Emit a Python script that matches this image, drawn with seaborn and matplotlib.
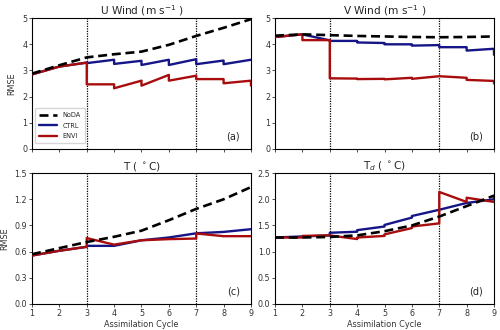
import numpy as np
import pandas as pd
import matplotlib
matplotlib.use("Agg")
import matplotlib.pyplot as plt
import seaborn as sns

sns.set_style("ticks")
plt.rcParams['font.family'] = ['DejaVu Sans']

cycles = [1, 2, 3, 4, 5, 6, 7, 8, 9]
titles = ["U Wind (m s$^{-1}$ )", "V Wind (m s$^{-1}$ )", "T ( $^\\circ$C)", "T$_d$ ( $^\\circ$C)"]
panel_labels = ["(a)", "(b)", "(c)", "(d)"]
yticks_list = [[0, 1, 2, 3, 4, 5], [0, 1, 2, 3, 4, 5],
               [0.0, 0.3, 0.6, 0.9, 1.2, 1.5], [0.0, 0.5, 1.0, 1.5, 2.0, 2.5]]
ytick_labels = [["0", "1", "2", "3", "4", "5"], ["0", "1", "2", "3", "4", "5"],
                ["0.0", "0.3", "0.6", "0.9", "1.2", "1.5"],
                ["0.0", "0.5", "1.0", "1.5", "2.0", "2.5"]]

# NoDA (no jumps), values at cycles 1..9
u_noda = [2.88, 3.2, 3.5, 3.62, 3.72, 3.98, 4.32, 4.63, 4.96]
v_noda = [4.33, 4.38, 4.35, 4.32, 4.3, 4.28, 4.27, 4.28, 4.3]
t_noda = [0.57, 0.64, 0.71, 0.77, 0.84, 0.96, 1.09, 1.2, 1.34]
td_noda = [1.27, 1.27, 1.28, 1.31, 1.39, 1.5, 1.67, 1.87, 2.07]

# forecast values (end of each cycle, at cycles 2..9)
u_ctrl_fc = [3.15, 3.3, 3.41, 3.37, 3.41, 3.43, 3.38, 3.41]
u_envi_fc = [3.15, 3.3, 2.47, 2.61, 2.83, 2.8, 2.67, 2.61]
v_ctrl_fc = [4.38, 4.15, 4.13, 4.05, 4.0, 3.97, 3.89, 3.83]
v_envi_fc = [4.38, 4.16, 2.69, 2.68, 2.72, 2.78, 2.72, 2.6]
t_ctrl_fc = [0.61, 0.655, 0.666, 0.73, 0.762, 0.81, 0.826, 0.857]
t_envi_fc = [0.61, 0.655, 0.68, 0.73, 0.743, 0.75, 0.777, 0.777]
td_ctrl_fc = [1.29, 1.31, 1.38, 1.48, 1.65, 1.8, 1.93, 2.0]
td_envi_fc = [1.27, 1.31, 1.24, 1.3, 1.45, 1.54, 1.95, 1.95]

# analysis values (start of each cycle, at cycles 1..9)
u_ctrl_an = [2.85, 3.15, 3.28, 3.25, 3.21, 3.21, 3.24, 3.24, 3.41]
u_envi_an = [2.85, 3.15, 2.47, 2.32, 2.42, 2.61, 2.67, 2.51, 2.42]
v_ctrl_an = [4.28, 4.38, 4.13, 4.07, 4.0, 3.95, 3.89, 3.76, 3.6]
v_envi_an = [4.28, 4.16, 2.7, 2.67, 2.66, 2.68, 2.78, 2.64, 2.5]
t_ctrl_an = [0.555, 0.61, 0.666, 0.666, 0.73, 0.762, 0.81, 0.826, 0.857]
t_envi_an = [0.555, 0.61, 0.755, 0.68, 0.73, 0.743, 0.808, 0.777, 0.777]
td_ctrl_an = [1.27, 1.29, 1.36, 1.41, 1.51, 1.68, 1.8, 1.93, 2.07]
td_envi_an = [1.27, 1.3, 1.31, 1.27, 1.33, 1.48, 2.14, 2.03, 1.95]

noda = [u_noda, v_noda, t_noda, td_noda]
ctrl = [(u_ctrl_fc, u_ctrl_an), (v_ctrl_fc, v_ctrl_an), (t_ctrl_fc, t_ctrl_an), (td_ctrl_fc, td_ctrl_an)]
envi = [(u_envi_fc, u_envi_an), (v_envi_fc, v_envi_an), (t_envi_fc, t_envi_an), (td_envi_fc, td_envi_an)]


def sawtooth(fc, an):
    xs, ys = [cycles[0]], [an[0]]
    for i in range(1, len(cycles)):
        xs += [cycles[i], cycles[i]]
        ys += [fc[i - 1], an[i]]
    return pd.DataFrame({"x": xs, "y": ys, "order": range(len(xs))})


fig, axes = plt.subplots(2, 2, figsize=(5, 3.3), dpi=100)
fig.subplots_adjust(left=0.064, right=0.988, top=0.945, bottom=0.079, wspace=0.11, hspace=0.185)

c_noda = "black"
c_ctrl = "#151588"
c_envi = "#a80c0c"

for k, ax in enumerate(axes.flat):
    ax.axvline(3, color="black", ls=(0, (1, 1)), lw=0.9, zorder=1)
    ax.axvline(7, color="black", ls=(0, (1, 1)), lw=0.9, zorder=1)
    dn = pd.DataFrame({"x": cycles, "y": noda[k]})
    sns.lineplot(data=dn, x="x", y="y", ax=ax, color=c_noda, lw=1.9,
                 linestyle=(0, (3.4, 1.8)), label="NoDA", zorder=4)
    dc = sawtooth(*ctrl[k])
    sns.lineplot(data=dc, x="x", y="y", ax=ax, sort=False, estimator=None,
                 color=c_ctrl, lw=1.7, label="CTRL", zorder=3)
    de = sawtooth(*envi[k])
    sns.lineplot(data=de, x="x", y="y", ax=ax, sort=False, estimator=None,
                 color=c_envi, lw=1.7, label="ENVI", zorder=3.5)
    ax.set_xlim(1, 9)
    ax.set_ylim(yticks_list[k][0], yticks_list[k][-1])
    ax.set_yticks(yticks_list[k])
    ax.set_yticklabels(ytick_labels[k])
    ax.set_xticks(cycles)
    ax.set_title(titles[k], fontsize=7.6, pad=2)
    ax.tick_params(labelsize=5.8, length=2, width=0.6, pad=1.5, colors="#333333")
    ax.text(0.95, 0.06, panel_labels[k], transform=ax.transAxes, ha="right", va="bottom", fontsize=7)
    for s in ax.spines.values():
        s.set_linewidth(0.8)
        s.set_color("black")
    ax.set_xlabel("")
    ax.set_ylabel("")
    if k < 2:
        ax.set_xticklabels([])
    else:
        ax.set_xlabel("Assimilation Cycle", fontsize=5.9, labelpad=1.5, color="#333333")
    if k % 2 == 0:
        ax.set_ylabel("RMSE", fontsize=5.9, labelpad=4, color="#333333")
    if k == 0:
        ax.legend(loc="lower left", fontsize=4.7, frameon=True, handlelength=2.8,
                  borderpad=0.6, labelspacing=0.7, edgecolor="#cccccc", fancybox=True,
                  bbox_to_anchor=(0.0, 0.02))
    else:
        leg = ax.get_legend()
        if leg is not None:
            leg.remove()

fig.savefig("out.png", dpi=100)
